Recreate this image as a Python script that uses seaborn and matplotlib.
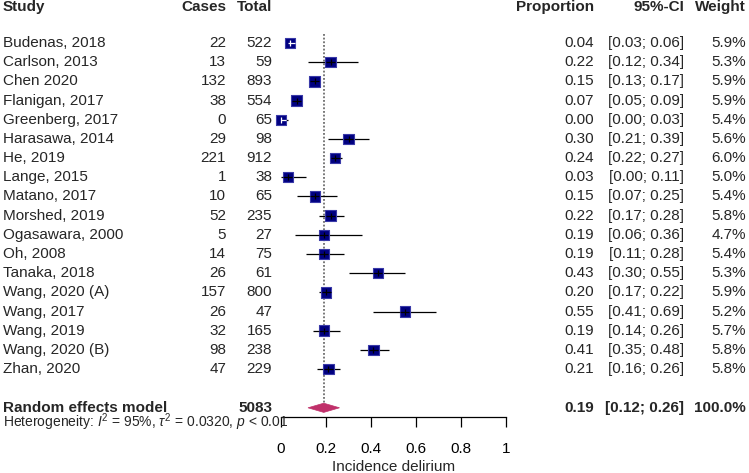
import numpy as np
import pandas as pd
import seaborn as sns
import matplotlib.pyplot as plt
import matplotlib.transforms as mtransforms
from matplotlib.patches import Polygon

# Study data
studies = ["Budenas, 2018", "Carlson, 2013", "Chen 2020", "Flanigan, 2017",
           "Greenberg, 2017", "Harasawa, 2014", "He, 2019", "Lange, 2015",
           "Matano, 2017", "Morshed, 2019", "Ogasawara, 2000", "Oh, 2008",
           "Tanaka, 2018", "Wang, 2020 (A)", "Wang, 2017", "Wang, 2019",
           "Wang, 2020 (B)", "Zhan, 2020"]
cases = [22, 13, 132, 38, 0, 29, 221, 1, 10, 52, 5, 14, 26, 157, 26, 32, 98, 47]
totals = [522, 59, 893, 554, 65, 98, 912, 38, 65, 235, 27, 75, 61, 800, 47, 165, 238, 229]
prop = [0.04, 0.22, 0.15, 0.07, 0.00, 0.30, 0.24, 0.03, 0.15, 0.22, 0.19, 0.19,
        0.43, 0.20, 0.55, 0.19, 0.41, 0.21]
lower = [0.03, 0.12, 0.13, 0.05, 0.00, 0.21, 0.22, 0.00, 0.07, 0.17, 0.06, 0.11,
         0.30, 0.17, 0.41, 0.14, 0.35, 0.16]
upper = [0.06, 0.34, 0.17, 0.09, 0.03, 0.39, 0.27, 0.11, 0.25, 0.28, 0.36, 0.28,
         0.55, 0.22, 0.69, 0.26, 0.48, 0.26]
weight = [5.9, 5.3, 5.9, 5.9, 5.4, 5.6, 6.0, 5.0, 5.4, 5.8, 4.7, 5.4, 5.3, 5.9,
          5.2, 5.7, 5.8, 5.8]

pooled_total = 5083
pooled = 0.19
pooled_lower = 0.12
pooled_upper = 0.26
xticks = [0, 0.2, 0.4, 0.6, 0.8, 1]
xtick_labels = ["0", "0.2", "0.4", "0.6", "0.8", "1"]

df = pd.DataFrame({"study": studies, "cases": cases, "total": totals,
                   "prop": prop, "lower": lower, "upper": upper, "weight": weight})
df["row"] = np.arange(len(df))
pooled_row = len(df) + 1.02

sns.set_style("white")
plt.rcParams["font.family"] = ["Liberation Sans", "DejaVu Sans"]
plt.rcParams["mathtext.fontset"] = "custom"
plt.rcParams["mathtext.rm"] = "Liberation Sans"
plt.rcParams["mathtext.it"] = "Liberation Sans:italic"

W, H = 749, 473
fig = plt.figure(figsize=(W / 100, H / 100), dpi=100)
ax = fig.add_axes([281 / W, (H - 417) / H, 225 / W, 417 / H])
ax.set_xlim(0, 1)
ax.set_ylim(19.5, -2.24)

fs = 11
navy = "#000080"

# CI lines
ax.hlines(df["row"], df["lower"], df["upper"], color="black", lw=0.9, zorder=2)

# squares sized by weight (area proportional)
sns.scatterplot(data=df, x="prop", y="row", size="weight", sizes=(4.7 * 10, 6.0 * 10),
                size_norm=(4.7, 6.0), marker="s", color=navy, edgecolor="#3a3aa8",
                linewidth=0.8, legend=False, ax=ax, zorder=3, clip_on=False)

# inner cross at the estimate (white when CI is inside the square)
narrow = (df["upper"] - df["lower"]) < 0.035
for is_narrow, sub in df.groupby(narrow):
    c = "white" if is_narrow else "black"
    ax.hlines(sub["row"], np.maximum(sub["lower"], sub["prop"] - 0.02),
              np.minimum(sub["upper"], sub["prop"] + 0.02), color=c, lw=0.9, zorder=4)
    ax.scatter(sub["prop"], sub["row"], marker="|", s=25, color=c, lw=0.9, zorder=4,
               clip_on=False)

# pooled estimate line and diamond
ax.vlines(pooled, -0.45, pooled_row, color="#555555", lw=1.1, ls=(0, (1.2, 1.2)), zorder=1)
ax.add_patch(Polygon([(pooled_lower, pooled_row), (pooled, pooled_row - 0.24),
                      (pooled_upper, pooled_row), (pooled, pooled_row + 0.24)],
                     closed=True, facecolor="#c0306a", edgecolor="#c0306a", lw=0.5,
                     zorder=3))

# axis styling
for s in ["top", "left", "right"]:
    ax.spines[s].set_visible(False)
ax.spines["bottom"].set_bounds(0, 1)
ax.spines["bottom"].set_color("black")
ax.spines["bottom"].set_linewidth(0.9)
ax.set_xticks(xticks)
ax.set_xticklabels(xtick_labels)
ax.tick_params(axis="x", direction="out", length=7, width=0.9, pad=11,
               labelsize=fs, colors="black", bottom=True)
ax.set_yticks([])
ax.set_xlabel("Incidence delirium", fontsize=fs, labelpad=3)
ax.set_ylabel("")

# text columns: x in figure pixels, y in rows
tr = mtransforms.blended_transform_factory(fig.transFigure, ax.transData)


def col(px, y, s, ha="right", bold=False, size=fs):
    ax.text(px / W, y, s, transform=tr, ha=ha, va="center", fontsize=size,
            fontweight="bold" if bold else "normal", clip_on=False)


hdr = -1.88
col(3, hdr, "Study", ha="left", bold=True)
col(226, hdr, "Cases", bold=True)
col(272, hdr, "Total", bold=True)
col(594, hdr, "Proportion", bold=True)
col(684, hdr, "95%-CI", bold=True)
col(746, hdr, "Weight", bold=True)

for _, r in df.iterrows():
    y = r["row"]
    col(3, y, r["study"], ha="left")
    col(226, y, f"{r['cases']:d}")
    col(272, y, f"{r['total']:d}")
    col(594, y, f"{r['prop']:.2f}")
    col(684, y, f"[{r['lower']:.2f}; {r['upper']:.2f}]")
    col(746, y, f"{r['weight']:.1f}%")

col(3, pooled_row, "Random effects model", ha="left", bold=True)
col(272, pooled_row, f"{pooled_total}", bold=True)
col(594, pooled_row, f"{pooled:.2f}", bold=True)
col(684, pooled_row, f"[{pooled_lower:.2f}; {pooled_upper:.2f}]", bold=True)
col(746, pooled_row, "100.0%", bold=True)
col(3, pooled_row + 0.74,
    r"Heterogeneity: $I^2$ = 95%, $\tau^2$ = 0.0320, $p$ < 0.01",
    ha="left", size=10)

fig.savefig("out.png", dpi=100)
